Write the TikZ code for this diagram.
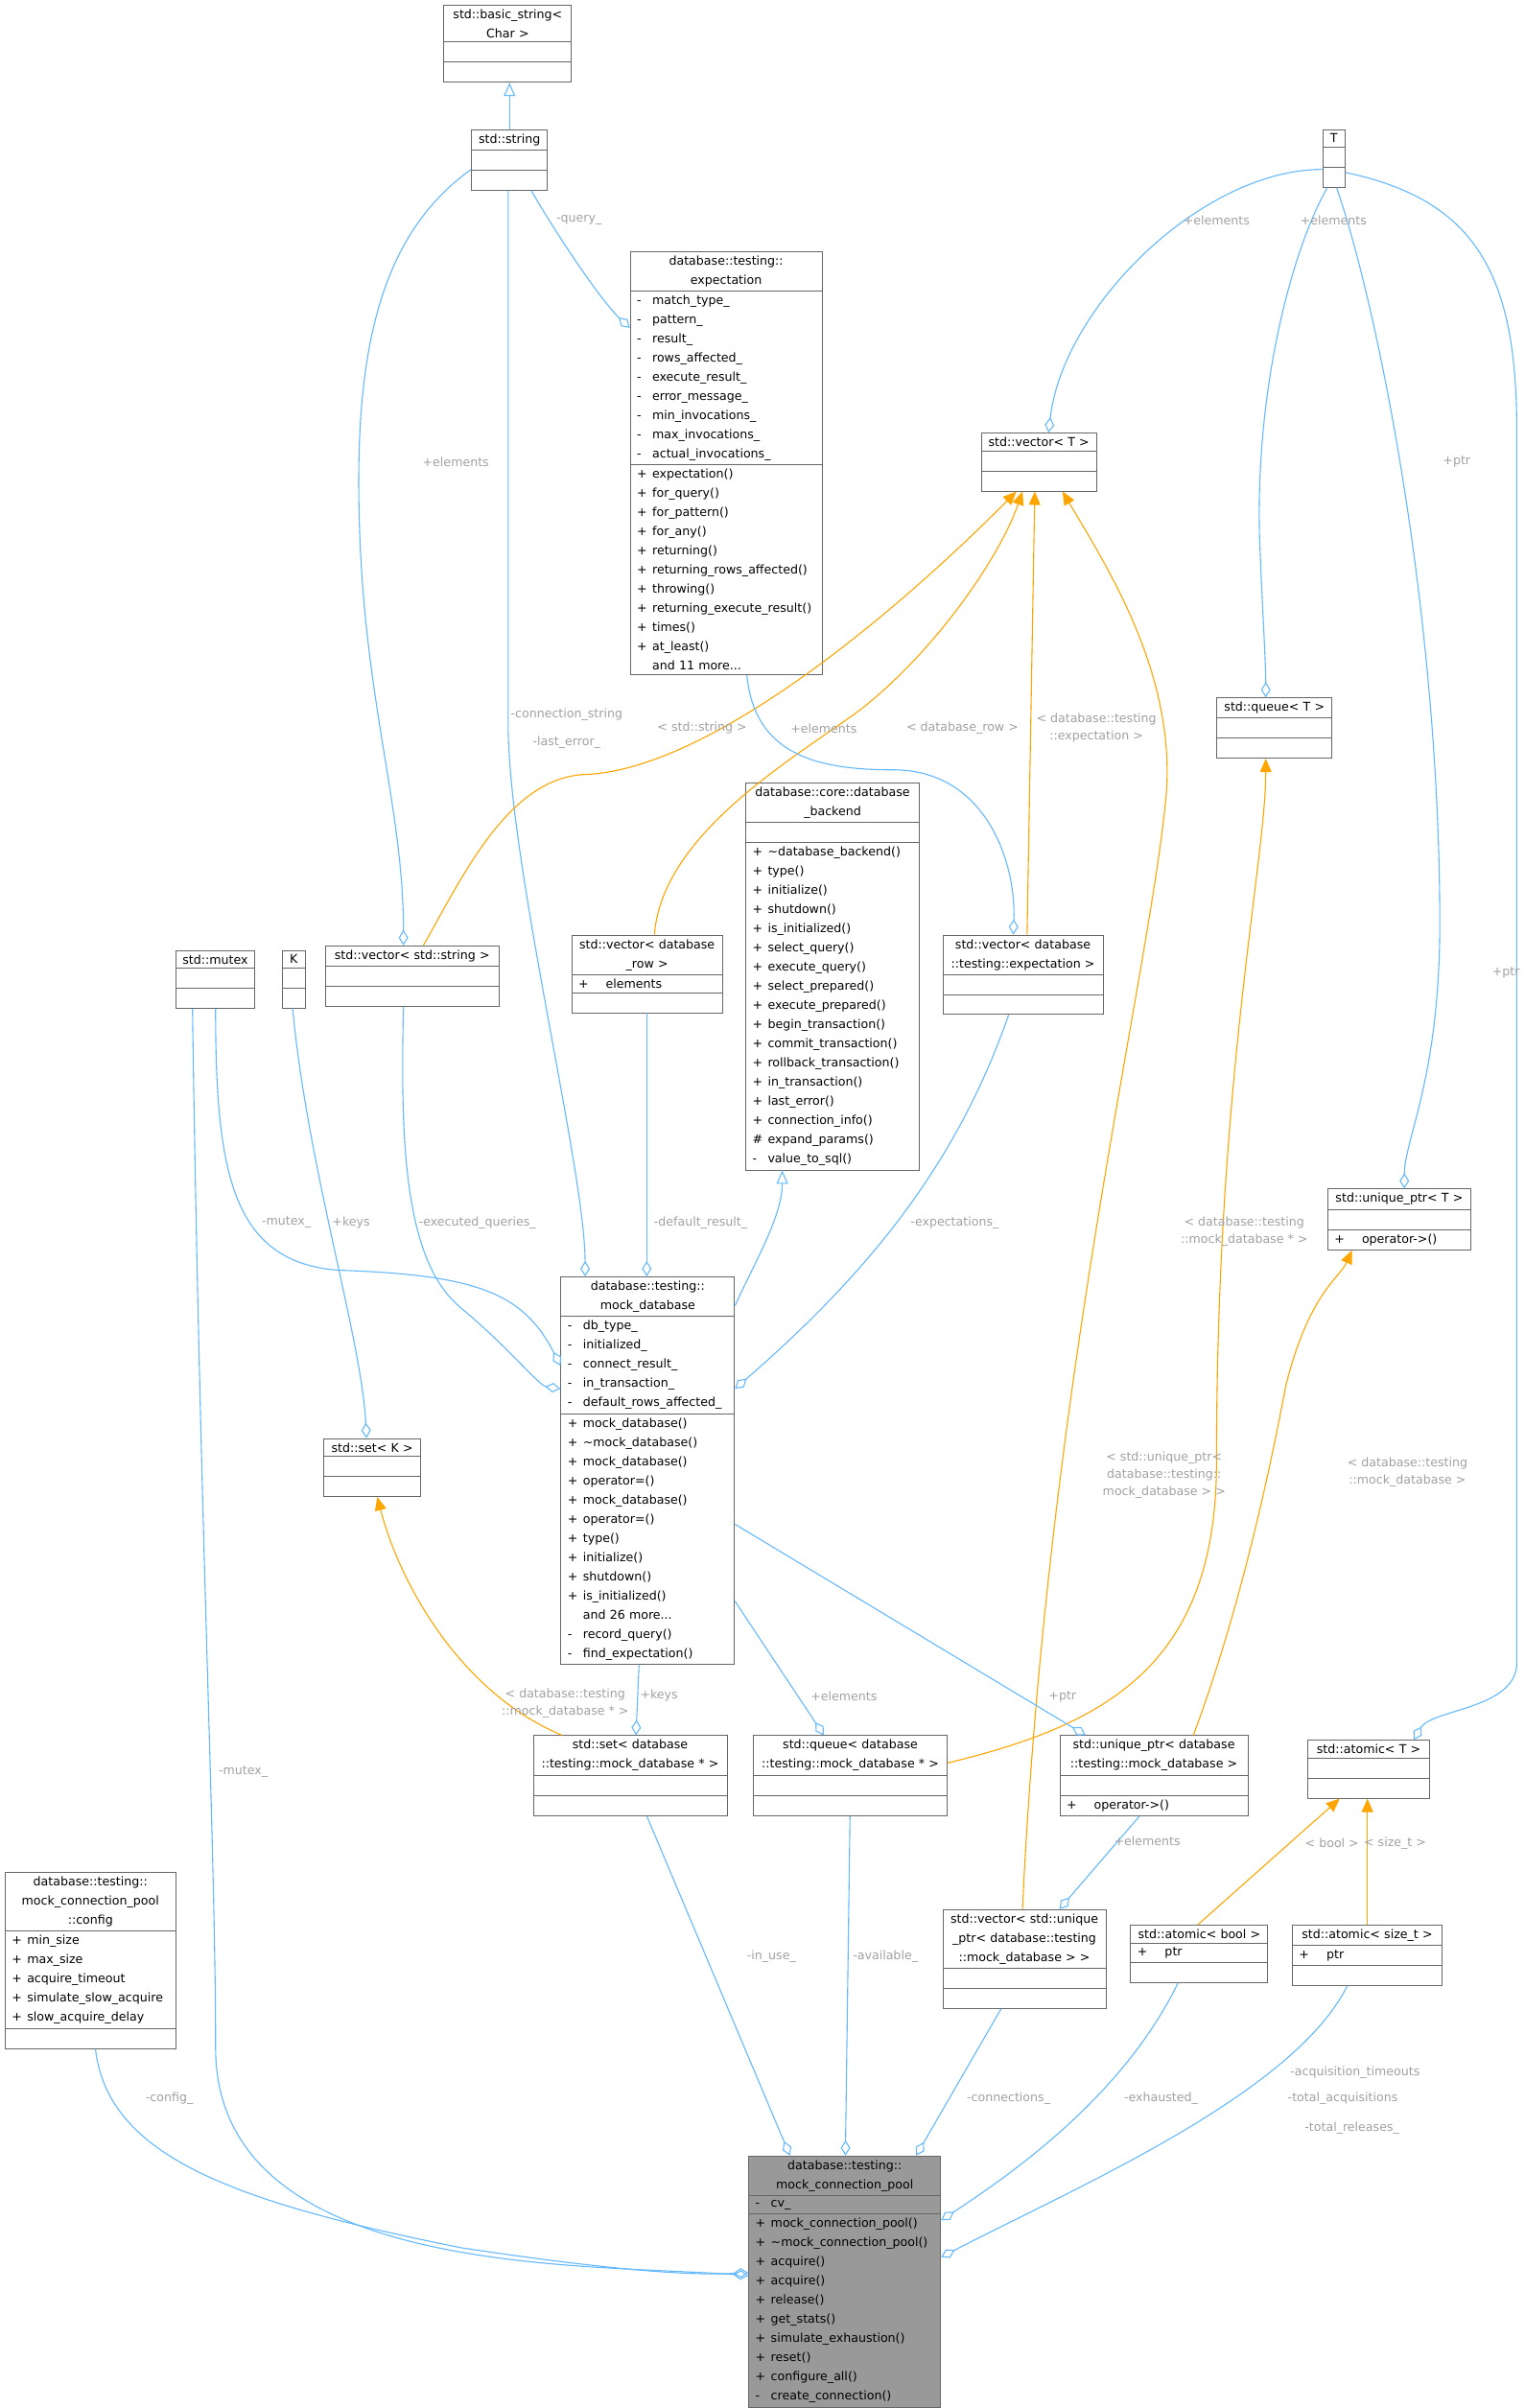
\documentclass[tikz,border=0pt]{standalone}
\usepackage{fontspec}
\setmainfont{DejaVu Sans}
\usetikzlibrary{shapes.multipart,arrows.meta}
\definecolor{eblue}{HTML}{63B8FF}
\definecolor{eorange}{HTML}{FFA500}
\definecolor{lgray}{HTML}{A0A0A0}
\definecolor{bgray}{HTML}{666666}
\newcommand\mm[2]{\makebox[16pt][l]{#1}#2}
\newcommand\tl[1]{\makebox[\linewidth][c]{#1}}
\newcommand\E{\rule{0pt}{12pt}}
\begin{document}
\begin{tikzpicture}[x=1.605pt,y=-1.605pt,
 cls/.style={rectangle split,rectangle split parts=3,draw=bgray,line width=0.9pt,fill=white,
   font=\fontsize{12.6}{20}\selectfont,inner xsep=7pt,inner ysep=4pt,
   rectangle split part align={center,left,left},anchor=north west,text width=#1pt},
 agg/.style={draw=eblue,line width=1.1pt,-{Diamond[open,length=16pt,width=10pt]}},
 inh/.style={draw=eblue,line width=1.1pt,-{Triangle[open,length=14pt,width=12pt]}},
 tpl/.style={draw=eorange,line width=1.1pt,-{Triangle[length=14pt,width=12pt]}},
 lbl/.style={text=lgray,font=\fontsize{12.6}{18}\selectfont,align=center,inner sep=1pt}]
\useasboundingbox (0,0) rectangle (990,1564);
% classes
\node[cls=119] (A) at (288,3) {\tl{std::basic\_string<}\\\tl{Char >}\nodepart{two}\E\nodepart{three}\E};
\node[cls=65] (B) at (306,84) {\tl{std::string}\nodepart{two}\E\nodepart{three}\E};
\node[cls=186] (C) at (409,163) {\tl{database::testing::}\\\tl{expectation}\nodepart{two}
\mm{-}{match\_type\_}\\\mm{-}{pattern\_}\\\mm{-}{result\_}\\\mm{-}{rows\_affected\_}\\\mm{-}{execute\_result\_}\\\mm{-}{error\_message\_}\\\mm{-}{min\_invocations\_}\\\mm{-}{max\_invocations\_}\\\mm{-}{actual\_invocations\_}
\nodepart{three}\mm{+}{expectation()}\\\mm{+}{for\_query()}\\\mm{+}{for\_pattern()}\\\mm{+}{for\_any()}\\\mm{+}{returning()}\\\mm{+}{returning\_rows\_affected()}\\\mm{+}{throwing()}\\\mm{+}{returning\_execute\_result()}\\\mm{+}{times()}\\\mm{+}{at\_least()}\\\mm{}{and 11 more...}};
\node[cls=8.5] (D) at (859,84) {\tl{T}\nodepart{two}\E\nodepart{three}\E};
\node[cls=106] (E) at (637,281) {\tl{std::vector< T >}\nodepart{two}\E\nodepart{three}\E};
\node[cls=106] (F) at (790,453) {\tl{std::queue< T >}\nodepart{two}\E\nodepart{three}\E};
\node[cls=167] (G) at (484,508) {\tl{database::core::database}\\\tl{\_backend}\nodepart{two}\E\nodepart{three}
\mm{+}{\textasciitilde database\_backend()}\\\mm{+}{type()}\\\mm{+}{initialize()}\\\mm{+}{shutdown()}\\\mm{+}{is\_initialized()}\\\mm{+}{select\_query()}\\\mm{+}{execute\_query()}\\\mm{+}{select\_prepared()}\\\mm{+}{execute\_prepared()}\\\mm{+}{begin\_transaction()}\\\mm{+}{commit\_transaction()}\\\mm{+}{rollback\_transaction()}\\\mm{+}{in\_transaction()}\\\mm{+}{last\_error()}\\\mm{+}{connection\_info()}\\\mm{\#}{expand\_params()}\\\mm{-}{value\_to\_sql()}};
\node[cls=143] (H) at (371,607) {\tl{std::vector< database}\\\tl{\_row >}\nodepart{two}\mm{+}{\quad elements}\nodepart{three}\E};
\node[cls=153] (I) at (612,607) {\tl{std::vector< database}\\\tl{::testing::expectation >}\nodepart{two}\E\nodepart{three}\E};
\node[cls=68] (J) at (114,617) {\tl{std::mutex}\nodepart{two}\E\nodepart{three}\E};
\node[cls=10] (K) at (183,617) {\tl{K}\nodepart{two}\E\nodepart{three}\E};
\node[cls=167] (L) at (211,614) {\tl{std::vector< std::string >}\nodepart{two}\E\nodepart{three}\E};
\node[cls=135] (M) at (862,772) {\tl{std::unique\_ptr< T >}\nodepart{two}\E\nodepart{three}\mm{+}{\quad operator->()}};
\node[cls=167] (N) at (364,829) {\tl{database::testing::}\\\tl{mock\_database}\nodepart{two}
\mm{-}{db\_type\_}\\\mm{-}{initialized\_}\\\mm{-}{connect\_result\_}\\\mm{-}{in\_transaction\_}\\\mm{-}{default\_rows\_affected\_}
\nodepart{three}\mm{+}{mock\_database()}\\\mm{+}{\textasciitilde mock\_database()}\\\mm{+}{mock\_database()}\\\mm{+}{operator=()}\\\mm{+}{mock\_database()}\\\mm{+}{operator=()}\\\mm{+}{type()}\\\mm{+}{initialize()}\\\mm{+}{shutdown()}\\\mm{+}{is\_initialized()}\\\mm{}{and 26 more...}\\\mm{-}{record\_query()}\\\mm{-}{find\_expectation()}};
\node[cls=87] (O) at (210,934) {\tl{std::set< K >}\nodepart{two}\E\nodepart{three}\E};
\node[cls=188] (P) at (346,1127) {\tl{std::set< database}\\\tl{::testing::mock\_database * >}\nodepart{two}\E\nodepart{three}\E};
\node[cls=188] (Q) at (489,1127) {\tl{std::queue< database}\\\tl{::testing::mock\_database * >}\nodepart{two}\E\nodepart{three}\E};
\node[cls=182] (R) at (688,1127) {\tl{std::unique\_ptr< database}\\\tl{::testing::mock\_database >}\nodepart{two}\E\nodepart{three}\mm{+}{\quad operator->()}};
\node[cls=113] (S) at (849,1130) {\tl{std::atomic< T >}\nodepart{two}\E\nodepart{three}\E};
\node[cls=156] (T2) at (612,1240) {\tl{std::vector< std::unique}\\\tl{\_ptr< database::testing}\\\tl{::mock\_database > >}\nodepart{two}\E\nodepart{three}\E};
\node[cls=129] (U) at (734,1250) {\tl{std::atomic< bool >}\nodepart{two}\mm{+}{\quad ptr}\nodepart{three}\E};
\node[cls=142] (V) at (839,1250) {\tl{std::atomic< size\_t >}\nodepart{two}\mm{+}{\quad ptr}\nodepart{three}\E};
\node[cls=164] (W) at (3,1216) {\tl{database::testing::}\\\tl{mock\_connection\_pool}\\\tl{::config}\nodepart{two}
\mm{+}{min\_size}\\\mm{+}{max\_size}\\\mm{+}{acquire\_timeout}\\\mm{+}{simulate\_slow\_acquire}\\\mm{+}{slow\_acquire\_delay}\nodepart{three}\E};
\node[cls=186,fill=black!40] (X) at (486,1400) {\tl{database::testing::}\\\tl{mock\_connection\_pool}\nodepart{two}\mm{-}{cv\_}
\nodepart{three}\mm{+}{mock\_connection\_pool()}\\\mm{+}{\textasciitilde mock\_connection\_pool()}\\\mm{+}{acquire()}\\\mm{+}{acquire()}\\\mm{+}{release()}\\\mm{+}{get\_stats()}\\\mm{+}{simulate\_exhaustion()}\\\mm{+}{reset()}\\\mm{+}{configure\_all()}\\\mm{-}{create\_connection()}};
% edges
\draw[inh] (B.north) -- (B.north |- A.south);
\draw[agg] (345,0 |- B.south) .. controls (360,150) and (390,195) .. (C.west |- 0,213);
\draw[agg] (B.west |- 0,110) .. controls (250,150) and (232,220) .. (233,320) .. controls (234,450) and (262,520) .. (262,0 |- L.north);
\draw[agg] (330,0 |- B.south) -- (330,470) .. controls (330,560) and (380,760) .. (380,0 |- N.north);
\draw[agg] (D.west |- 0,110) .. controls (780,110) and (690,200) .. (681,0 |- E.north);
\draw[agg] (862,0 |- D.south) .. controls (840,160) and (815,250) .. (818,350) .. controls (820,400) and (822,430) .. (822,0 |- F.north);
\draw[agg] (868,0 |- D.south) .. controls (895,200) and (935,400) .. (935,600) .. controls (935,700) and (912,740) .. (912,0 |- M.north);
\draw[agg] (D.east |- 0,112) .. controls (960,130) and (985,180) .. (985,280) -- (985,1080) .. controls (985,1110) and (930,1110) .. (918,0 |- S.north);
\draw[tpl] (275,0 |- L.north) .. controls (300,570) and (330,505) .. (380,503) .. controls (460,500) and (580,400) .. (660,0 |- E.south);
\draw[tpl] (425,0 |- H.north) .. controls (430,540) and (520,490) .. (560,460) .. controls (610,420) and (650,360) .. (664,0 |- E.south);
\draw[tpl] (667,0 |- I.north) -- (672,0 |- E.south);
\draw[tpl] (664,0 |- T2.north) .. controls (680,900) and (745,640) .. (757,520) .. controls (765,440) and (720,370) .. (690,0 |- E.south);
\draw[agg] (485,0 |- C.south) .. controls (490,490) and (530,500) .. (580,500) .. controls (640,500) and (660,560) .. (658,0 |- I.north);
\draw[tpl] (Q.east |- 0,1145) .. controls (720,1120) and (790,1080) .. (790,950) .. controls (790,700) and (822,560) .. (822,0 |- F.south);
\draw[tpl] (775,0 |- R.north) .. controls (800,1060) and (820,980) .. (835,900) .. controls (850,840) and (870,830) .. (878,0 |- M.south);
\draw[tpl] (778,0 |- U.north) -- (870,0 |- S.south);
\draw[tpl] (888,0 |- V.north) -- (888,0 |- S.south);
\draw[agg] (140,0 |- J.south) .. controls (140,760) and (150,820) .. (220,825) .. controls (310,828) and (340,840) .. (N.west |- 0,887);
\draw[agg] (190,0 |- K.south) .. controls (200,760) and (235,870) .. (238,0 |- O.north);
\draw[agg] (262,0 |- L.south) .. controls (260,740) and (262,820) .. (300,850) .. controls (330,875) and (350,900) .. (N.west |- 0,902);
\draw[agg] (420,0 |- H.south) -- (420,0 |- N.north);
\draw[inh] (N.east |- 0,848) .. controls (490,820) and (508,790) .. (508,0 |- G.south);
\draw[agg] (655,0 |- I.south) .. controls (620,760) and (560,830) .. (N.east |- 0,902);
\draw[tpl] (365,0 |- P.north) .. controls (300,1100) and (260,1030) .. (245,0 |- O.south);
\draw[agg] (415,0 |- N.south) -- (413,0 |- P.north);
\draw[agg] (N.east |- 0,1040) -- (535,0 |- Q.north);
\draw[agg] (N.east |- 0,990) -- (705,0 |- R.north);
\draw[agg] (740,0 |- R.south) -- (688,0 |- T2.north);
\draw[agg] (125,0 |- J.south) .. controls (130,1000) and (140,1200) .. (140,1330) .. controls (140,1480) and (380,1470) .. (X.west |- 0,1478);
\draw[agg] (62,0 |- W.south) .. controls (70,1400) and (150,1430) .. (300,1460) .. controls (400,1475) and (450,1478) .. (X.west |- 0,1476);
\draw[agg] (420,0 |- P.south) -- (513,0 |- X.north);
\draw[agg] (552,0 |- Q.south) -- (549,0 |- X.north);
\draw[agg] (650,0 |- T2.south) -- (595,0 |- X.north);
\draw[agg] (765,0 |- U.south) .. controls (730,1360) and (660,1410) .. (X.east |- 0,1442);
\draw[agg] (875,0 |- V.south) .. controls (840,1360) and (700,1420) .. (X.east |- 0,1466);
% labels
\node[lbl] (l1) at (376,143) {-query\_};
\node[lbl] (l2) at (296,300) {+elements};
\node[lbl] (l3) at (368,464) {-connection\_string};
\node[lbl] (l4) at (368,482) {-last\_error\_};
\node[lbl] (l5) at (790,143) {+elements};
\node[lbl] (l6) at (866,143) {+elements};
\node[lbl] (l7) at (946,300) {+ptr};
\node[lbl] (l8) at (978,632) {+ptr};
\node[lbl] (l9) at (456,473) {< std::string >};
\node[lbl] (l10) at (625,473) {< database\_row >};
\node[lbl] (l11) at (712,473) {< database::testing\\::expectation >};
\node[lbl] (l12) at (535,473) {+elements};
\node[lbl] (l13) at (756,958) {< std::unique\_ptr<\\database::testing::\\mock\_database > >};
\node[lbl] (l14) at (808,800) {< database::testing\\::mock\_database * >};
\node[lbl] (l15) at (914,956) {< database::testing\\::mock\_database >};
\node[lbl] (l16) at (865,1197) {< bool >};
\node[lbl] (l17) at (906,1197) {< size\_t >};
\node[lbl] (l18) at (186,794) {-mutex\_};
\node[lbl] (l19) at (228,794) {+keys};
\node[lbl] (l20) at (310,794) {-executed\_queries\_};
\node[lbl] (l21) at (455,794) {-default\_result\_};
\node[lbl] (l22) at (620,794) {-expectations\_};
\node[lbl,anchor=east] (l23) at (409,1106) {< database::testing\\::mock\_database * >};
\node[lbl] (l24) at (428,1101) {+keys};
\node[lbl] (l25) at (548,1102) {+elements};
\node[lbl] (l26) at (690,1102) {+ptr};
\node[lbl] (l27) at (745,1196) {+elements};
\node[lbl] (l28) at (158,1151) {-mutex\_};
\node[lbl] (l29) at (110,1363) {-config\_};
\node[lbl] (l30) at (501,1271) {-in\_use\_};
\node[lbl] (l31) at (575,1271) {-available\_};
\node[lbl] (l32) at (655,1363) {-connections\_};
\node[lbl] (l33) at (754,1363) {-exhausted\_};
\node[lbl] (l34) at (880,1346) {-acquisition\_timeouts};
\node[lbl] (l35) at (872,1363) {-total\_acquisitions};
\node[lbl] (l36) at (878,1382) {-total\_releases\_};
\end{tikzpicture}
\end{document}
